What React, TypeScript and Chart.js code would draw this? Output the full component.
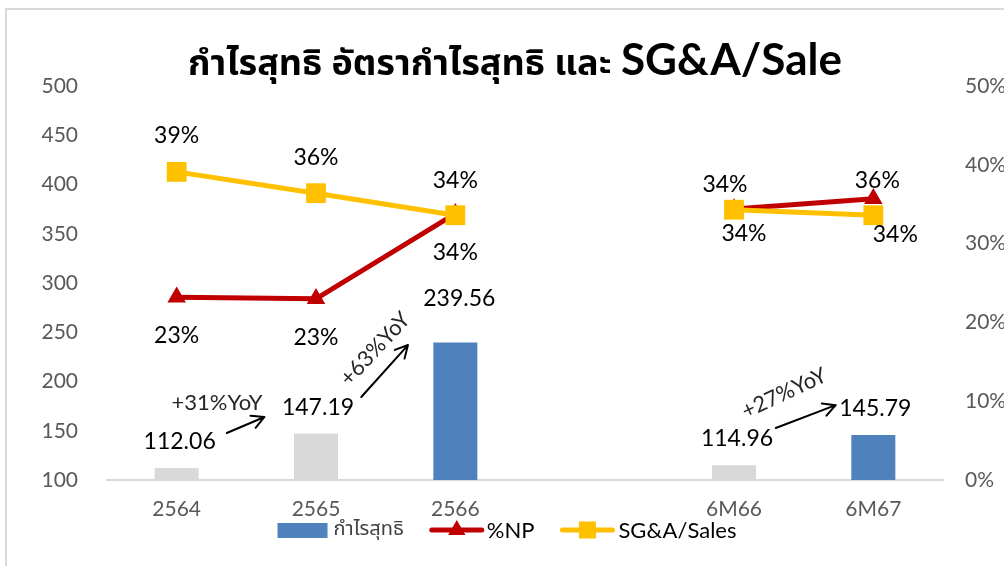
import React, { useEffect, useRef } from "react";
import { Chart, registerables } from "chart.js";

Chart.register(...registerables);

// ---------- data ----------
const categories = ["2564", "2565", "2566", "", "6M66", "6M67"];
const netProfit = [112.06, 147.19, 239.56, null, 114.96, 145.79];
const npMargin = [23.2, 23.0, 33.8, null, 34.4, 35.7];
const sgaSales = [39.1, 36.4, 33.6, null, 34.3, 33.6];
const netProfitLabels = ["112.06", "147.19", "239.56", "", "114.96", "145.79"];
const npMarginLabels = ["23%", "23%", "34%", "", "34%", "36%"];
const sgaLabels = ["39%", "36%", "34%", "", "34%", "34%"];
const leftTickMin = 100;
const leftTickMax = 500;
const leftTickStep = 50;
const rightTickMin = 0;
const rightTickMax = 50;
const rightTickStep = 10;
const growthLabels = ["+31%YoY", "+63%YoY", "+27%YoY"];
const legendLabels = ["กำไรสุทธิ", "%NP", "SG&A/Sales"];
const titleThai = "กำไรสุทธิ อัตรากำไรสุทธิ และ ";
const titleLatin = "SG&A/Sale";

// ---------- styles / placement ----------
const GRAY = "#d9d9d9";
const BLUE = "#4f81bd";
const RED = "#c00000";
const YELLOW = "#ffc000";
const barColors = [GRAY, GRAY, BLUE, GRAY, GRAY, BLUE];
const FONT = "Lato, 'Open Sans', 'Noto Sans', sans-serif";
const THAI_FONT = "'Noto Sans Thai', 'Noto Sans Thai UI', Lato, 'Noto Sans', sans-serif";

const barLabelOffset = [[3, -27], [2, -26], [4, -44], [0, 0], [3, -27], [2, -26]];
const npLabelOffset = [[0, 38], [0, 39], [0, 39], [0, 0], [-9, -24], [4, -18]];
const sgaLabelOffset = [[0, -36], [0, -36], [0, -35], [0, 0], [10, 24], [22, 19]];

// growth arrows in (category index, left-axis value) space
const growthArrows = [
  { from: [0.36, 147.7], to: [0.63, 164], text: [0.29, 178], angle: 0 },
  { from: [1.325, 184.3], to: [1.66, 237], text: [1.425, 233], angle: -47 },
  { from: [4.3, 152.8], to: [4.73, 176], text: [4.36, 188], angle: -25 },
];

function idxToX(chart: any, idx: number) {
  const xs = chart.scales.x;
  const p0 = xs.getPixelForValue(0);
  const p1 = xs.getPixelForValue(1);
  return p0 + idx * (p1 - p0);
}

const framePlugin = {
  id: "frame",
  beforeDraw(chart: any) {
    const ctx = chart.ctx;
    ctx.save();
    ctx.fillStyle = "#fff";
    ctx.fillRect(0, 0, chart.width, chart.height);
    ctx.strokeStyle = GRAY;
    ctx.lineWidth = 2;
    ctx.beginPath();
    ctx.moveTo(5, 9);
    ctx.lineTo(chart.width, 9);
    ctx.moveTo(6, 8);
    ctx.lineTo(6, chart.height);
    ctx.stroke();
    ctx.restore();
  },
};

const titlePlugin = {
  id: "customTitle",
  afterDraw(chart: any) {
    const ctx = chart.ctx;
    ctx.save();
    const f1 = `bold 36px ${THAI_FONT}`;
    const f2 = `bold 44px ${FONT}`;
    ctx.font = f1;
    const w1 = ctx.measureText(titleThai).width;
    ctx.font = f2;
    const w2 = ctx.measureText(titleLatin).width;
    const cx = 515;
    const start = cx - (w1 + w2) / 2;
    const base = 75;
    ctx.fillStyle = "#000";
    ctx.textAlign = "left";
    ctx.textBaseline = "alphabetic";
    ctx.font = f1;
    ctx.fillText(titleThai, start, base);
    ctx.font = f2;
    ctx.fillText(titleLatin, start + w1, base);
    ctx.restore();
  },
};

const labelsPlugin = {
  id: "dataLabels",
  afterDatasetsDraw(chart: any) {
    const ctx = chart.ctx;
    ctx.save();
    ctx.font = `23px ${FONT}`;
    ctx.fillStyle = "#000";
    ctx.textAlign = "center";
    ctx.textBaseline = "middle";
    const sets = [
      { meta: chart.getDatasetMeta(2), labels: netProfitLabels, off: barLabelOffset },
      { meta: chart.getDatasetMeta(1), labels: npMarginLabels, off: npLabelOffset },
      { meta: chart.getDatasetMeta(0), labels: sgaLabels, off: sgaLabelOffset },
    ];
    sets.forEach((s) => {
      s.meta.data.forEach((el: any, i: number) => {
        const t = s.labels[i];
        if (!t || el.skip || isNaN(el.y)) return;
        ctx.fillText(t, el.x + s.off[i][0], el.y + s.off[i][1]);
      });
    });
    ctx.restore();
  },
};

function drawArrow(ctx: any, x1: number, y1: number, x2: number, y2: number) {
  const a = Math.atan2(y2 - y1, x2 - x1);
  const L = 14;
  const spread = Math.PI / 6.5;
  ctx.beginPath();
  ctx.moveTo(x1, y1);
  ctx.lineTo(x2, y2);
  ctx.moveTo(x2 - L * Math.cos(a - spread), y2 - L * Math.sin(a - spread));
  ctx.lineTo(x2, y2);
  ctx.lineTo(x2 - L * Math.cos(a + spread), y2 - L * Math.sin(a + spread));
  ctx.stroke();
}

const growthPlugin = {
  id: "growth",
  afterDraw(chart: any) {
    const ctx = chart.ctx;
    const ys = chart.scales.y;
    ctx.save();
    ctx.strokeStyle = "#000";
    ctx.lineWidth = 2;
    ctx.lineCap = "round";
    ctx.lineJoin = "round";
    growthArrows.forEach((g, i) => {
      drawArrow(
        ctx,
        idxToX(chart, g.from[0]), ys.getPixelForValue(g.from[1]),
        idxToX(chart, g.to[0]), ys.getPixelForValue(g.to[1])
      );
      ctx.save();
      ctx.translate(idxToX(chart, g.text[0]), ys.getPixelForValue(g.text[1]));
      ctx.rotate((g.angle * Math.PI) / 180);
      ctx.font = `22px ${FONT}`;
      ctx.fillStyle = "#262626";
      ctx.textAlign = "center";
      ctx.textBaseline = "middle";
      ctx.fillText(growthLabels[i], 0, 0);
      ctx.restore();
    });
    ctx.restore();
  },
};

const legendPlugin = {
  id: "customLegend",
  afterDraw(chart: any) {
    const ctx = chart.ctx;
    ctx.save();
    const cy = 530;
    const symW = [50, 54, 54];
    const textGap = [6, 3, 4];
    const itemGap = 26;
    const fonts = [`20px ${THAI_FONT}`, `22px ${FONT}`, `22px ${FONT}`];
    const colors = ["#404040", "#000", "#000"];
    const tw = legendLabels.map((t, i) => {
      ctx.font = fonts[i];
      return ctx.measureText(t).width;
    });
    let total = 0;
    for (let i = 0; i < 3; i++) total += symW[i] + textGap[i] + tw[i] + (i < 2 ? itemGap : 0);
    let x = 507 - total / 2;
    for (let i = 0; i < 3; i++) {
      if (i === 0) {
        ctx.fillStyle = BLUE;
        ctx.fillRect(x, cy - 7, symW[i], 15);
      } else {
        const col = i === 1 ? RED : YELLOW;
        ctx.strokeStyle = col;
        ctx.lineWidth = 5;
        ctx.lineCap = "round";
        ctx.beginPath();
        ctx.moveTo(x + 2, cy);
        ctx.lineTo(x + symW[i] - 2, cy);
        ctx.stroke();
        ctx.fillStyle = col;
        const mx = x + symW[i] / 2;
        if (i === 1) {
          const r = 10;
          ctx.beginPath();
          ctx.moveTo(mx, cy - r);
          ctx.lineTo(mx + r * 0.866, cy + r / 2);
          ctx.lineTo(mx - r * 0.866, cy + r / 2);
          ctx.closePath();
          ctx.fill();
        } else {
          ctx.fillRect(mx - 8.5, cy - 8.5, 17, 17);
        }
      }
      x += symW[i] + textGap[i];
      ctx.font = fonts[i];
      ctx.fillStyle = colors[i];
      ctx.textAlign = "left";
      ctx.textBaseline = "middle";
      ctx.fillText(legendLabels[i], x, cy + 1);
      x += tw[i] + itemGap;
    }
    ctx.restore();
  },
};

export default function App() {
  const ref = useRef<HTMLCanvasElement>(null);
  useEffect(() => {
    const canvas = ref.current;
    if (!canvas) return;
    const tickFont = { family: FONT, size: 21 };
    const chart = new Chart(canvas, {
      type: "bar",
      data: {
        labels: categories,
        datasets: [
          {
            type: "line",
            label: legendLabels[2],
            data: sgaSales,
            yAxisID: "y1",
            borderColor: YELLOW,
            backgroundColor: YELLOW,
            borderWidth: 5,
            pointStyle: "rect",
            pointRadius: 14,
            pointBorderWidth: 0,
            pointBackgroundColor: YELLOW,
            spanGaps: false,
            order: 1,
          },
          {
            type: "line",
            label: legendLabels[1],
            data: npMargin,
            yAxisID: "y1",
            borderColor: RED,
            backgroundColor: RED,
            borderWidth: 5,
            pointStyle: "triangle",
            pointRadius: 10.7,
            pointBorderWidth: 0,
            pointBackgroundColor: RED,
            spanGaps: false,
            order: 2,
          },
          {
            type: "bar",
            label: legendLabels[0],
            data: netProfit,
            yAxisID: "y",
            backgroundColor: barColors,
            barPercentage: 0.316,
            categoryPercentage: 1,
            order: 3,
          },
        ] as any,
      },
      options: {
        responsive: false,
        animation: false,
        layout: { padding: { top: 86, left: 0, right: 0, bottom: 0 } },
        plugins: {
          legend: { display: false },
          title: { display: false },
          tooltip: { enabled: false },
        },
        scales: {
          x: {
            grid: { display: true, drawOnChartArea: false, drawTicks: false },
            border: { display: true, color: GRAY, width: 2 },
            ticks: { color: "#595959", font: tickFont, padding: 17, maxRotation: 0, autoSkip: false },
            afterFit: (s: any) => { s.height = 86; },
          },
          y: {
            position: "left",
            min: leftTickMin,
            max: leftTickMax,
            ticks: { stepSize: leftTickStep, color: "#595959", font: tickFont, padding: 29 },
            grid: { display: false, drawTicks: false },
            border: { display: false },
            afterFit: (s: any) => { s.width = 107; },
          },
          y1: {
            position: "right",
            min: rightTickMin,
            max: rightTickMax,
            ticks: {
              stepSize: rightTickStep,
              color: "#595959",
              font: tickFont,
              padding: 22,
              callback: (v: any) => `${v}%`,
            },
            grid: { display: false, drawTicks: false },
            border: { display: false },
            afterFit: (s: any) => { s.width = 61; },
          },
        } as any,
      },
      plugins: [framePlugin, titlePlugin, labelsPlugin, growthPlugin, legendPlugin],
    });
    return () => chart.destroy();
  }, []);
  return (
    <div
      style={{
        position: "fixed",
        left: 0,
        top: 0,
        width: 1004,
        height: 566,
        overflow: "hidden",
        background: "#fff",
      }}
    >
      <canvas ref={ref} width={1004} height={566} style={{ display: "block", width: 1004, height: 566 }} />
    </div>
  );
}
